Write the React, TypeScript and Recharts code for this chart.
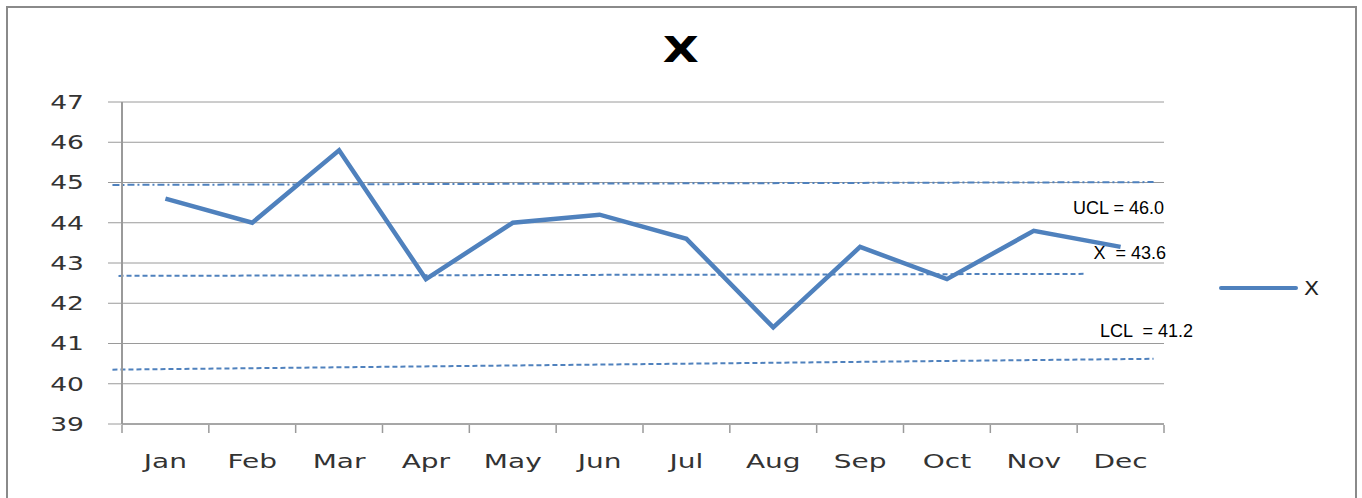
import React from "react";
import {
  LineChart,
  Line,
  XAxis,
  YAxis,
  CartesianGrid,
  ReferenceLine,
} from "recharts";

const months = ["Jan", "Feb", "Mar", "Apr", "May", "Jun", "Jul", "Aug", "Sep", "Oct", "Nov", "Dec"];
const xValues = [44.6, 44.0, 45.8, 42.6, 44.0, 44.2, 43.6, 41.4, 43.4, 42.6, 43.8, 43.4];
const yTicks = [39, 40, 41, 42, 43, 44, 45, 46, 47];
const slotTicks = [0, 1, 2, 3, 4, 5, 6, 7, 8, 9, 10, 11, 12];

// limit lines as drawn: [start slot, end slot] and [start value, end value]
const uclX = [-0.11, 11.88];
const uclY = [44.94, 45.01];
const meanX = [-0.04, 11.08];
const meanY = [42.68, 42.73];
const lclX = [-0.11, 11.88];
const lclY = [40.35, 40.62];

const limitLabels = [
  { text: "UCL = 46.0", right: 198, top: 197 },
  { text: "X  = 43.6", right: 196, top: 242 },
  { text: "LCL  = 41.2", right: 169, top: 320 },
];

const data = months.map((m, i) => ({ month: m, x: xValues[i] }));

const BLUE = "#4F81BD";
const GRID = "#9a9a9a";

const YTick = (props: any) => {
  const { x, y, payload } = props;
  return (
    <g transform={`translate(${x},${y}) scale(1.4,1)`}>
      <text x={0} y={0} dy="0.36em" textAnchor="end" fill="#333" fontSize={19} fontFamily="DejaVu Sans">
        {payload.value}
      </text>
    </g>
  );
};

const XTick = (props: any) => {
  const { x, y, payload } = props;
  return (
    <g transform={`translate(${x},${y}) scale(1.4,1)`}>
      <text x={0} y={0} dy="0.71em" textAnchor="middle" fill="#333" fontSize={20} fontFamily="DejaVu Sans">
        {payload.value}
      </text>
    </g>
  );
};

const NoTick = () => <g />;

export default function App() {
  return (
    <div style={{ position: "absolute", left: 0, top: 0, width: 1362, height: 498, background: "#fff", overflow: "hidden" }}>
      <div
        style={{
          position: "absolute",
          left: 6,
          top: 6,
          width: 1351,
          height: 494,
          border: "2px solid #8a8a8a",
          boxSizing: "border-box",
        }}
      />
      <div
        style={{
          position: "absolute",
          left: 0,
          width: 1362,
          top: 28,
          textAlign: "center",
          fontFamily: "DejaVu Sans",
          fontWeight: "bold",
          fontSize: 36,
          lineHeight: "44px",
          color: "#000",
        }}
      >
        <span style={{ display: "inline-block", transform: "scaleX(1.3)" }}>X</span>
      </div>
      <LineChart
        width={1362}
        height={498}
        data={data}
        margin={{ top: 102, right: 198, bottom: 65, left: 62 }}
        style={{ position: "absolute", left: 0, top: 0 }}
      >
        <CartesianGrid horizontal={true} vertical={false} stroke={GRID} strokeWidth={1} />
        <XAxis
          xAxisId="n"
          type="number"
          dataKey={() => 0}
          domain={[0, 12]}
          ticks={slotTicks}
          tick={<NoTick />}
          tickSize={8}
          height={8}
          stroke={GRID}
          axisLine={false}
          tickLine={{ stroke: GRID, strokeWidth: 1.5 }}
          interval={0}
          allowDataOverflow
        />
        <XAxis
          xAxisId="c"
          dataKey="month"
          scale="band"
          axisLine={{ stroke: GRID, strokeWidth: 1.5 }}
          tickLine={false}
          tickSize={0}
          tickMargin={30}
          height={1}
          interval={0}
          tick={<XTick />}
        />
        <YAxis
          domain={[39, 47]}
          ticks={yTicks}
          width={60}
          tickSize={14}
          tickMargin={24}
          axisLine={{ stroke: GRID, strokeWidth: 2 }}
          tickLine={{ stroke: GRID, strokeWidth: 1 }}
          tick={<YTick />}
          interval={0}
        />
        <ReferenceLine
          xAxisId="n"
          ifOverflow="visible"
          segment={[
            { x: uclX[0], y: uclY[0] },
            { x: uclX[1], y: uclY[1] },
          ]}
          stroke={BLUE}
          strokeWidth={2}
          strokeDasharray="7 3 2 3"
        />
        <ReferenceLine
          xAxisId="n"
          ifOverflow="visible"
          segment={[
            { x: meanX[0], y: meanY[0] },
            { x: meanX[1], y: meanY[1] },
          ]}
          stroke={BLUE}
          strokeWidth={2}
          strokeDasharray="5 3"
        />
        <ReferenceLine
          xAxisId="n"
          ifOverflow="visible"
          segment={[
            { x: lclX[0], y: lclY[0] },
            { x: lclX[1], y: lclY[1] },
          ]}
          stroke={BLUE}
          strokeWidth={2}
          strokeDasharray="5 3"
        />
        <Line
          xAxisId="c"
          type="linear"
          dataKey="x"
          stroke={BLUE}
          strokeWidth={4.5}
          dot={false}
          activeDot={false}
          isAnimationActive={false}
        />
      </LineChart>
      {limitLabels.map((l) => (
        <div
          key={l.text}
          style={{
            position: "absolute",
            right: l.right,
            top: l.top,
            fontFamily: "Liberation Sans",
            fontSize: 18,
            lineHeight: "22px",
            color: "#000",
            whiteSpace: "pre",
          }}
        >
          {l.text}
        </div>
      ))}
      <div style={{ position: "absolute", left: 1219, top: 276, display: "flex", alignItems: "center", height: 24 }}>
        <div style={{ width: 79, height: 4, background: BLUE, borderRadius: 2 }} />
        <span
          style={{
            marginLeft: 6,
            fontFamily: "DejaVu Sans",
            fontSize: 20,
            color: "#222",
            display: "inline-block",
            transform: "scaleX(1.1)",
            transformOrigin: "left center",
          }}
        >
          X
        </span>
      </div>
    </div>
  );
}
